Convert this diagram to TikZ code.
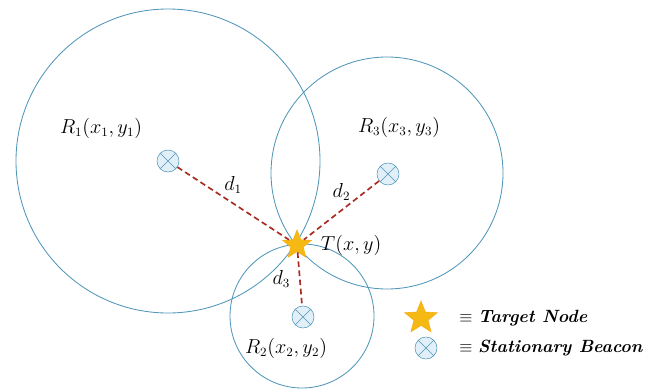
\documentclass[tikz,border=0pt]{standalone}
\usetikzlibrary{shapes.geometric}
\definecolor{ringblue}{RGB}{80,150,185}
\definecolor{beaconfill}{RGB}{225,240,248}
\definecolor{distred}{RGB}{170,45,35}
\definecolor{stargold}{RGB}{245,185,20}
\begin{document}
\begin{tikzpicture}[x=0.025cm, y=0.025cm,
  ring/.style={ringblue, line width=0.6pt},
  beacon/.style={circle, draw=ringblue, fill=beaconfill, minimum size=0.55cm, inner sep=0pt,
    path picture={\draw[ringblue] (path picture bounding box.north west) -- (path picture bounding box.south east)
      (path picture bounding box.north east) -- (path picture bounding box.south west);}},
  target/.style={star, star points=5, star point ratio=2.3, fill=stargold, draw=stargold!80!orange, minimum size=0.75cm, inner sep=0pt},
  dist/.style={distred, line width=1.2pt, dash pattern=on 4pt off 2.5pt},
  lbl/.style={font=\fontsize{13.5}{16}\selectfont},
  key/.style={right, inner sep=0pt, font=\fontsize{12.6}{15}\selectfont}]
% Fix the picture size
\useasboundingbox (0,0) rectangle (649,390);

% Draw the range circles of the three beacons
\draw[ring] (168,229) circle (152);
\draw[ring] (387,217) circle (116);
\draw[ring] (302,74) circle (72);

% Draw the beacons
\node[beacon] (b1) at (168,229) {};
\node[beacon] (b3) at (388,216) {};
\node[beacon] (b2) at (303,73) {};

% Draw the target node
\node[target] (tgt) at (297,145) {};
\node[lbl, right] (tlbl) at (316,145) {$T(x,y)$};

% Draw the distances
\draw[dist] (b1) -- (tgt) node[midway, above=3pt, lbl, black] (d1) {$d_1$};
\draw[dist] (b3) -- (tgt) node[midway, above=3pt, lbl, black] (d2) {$d_2$};
\draw[dist] (tgt) -- (b2) node[midway, left=3pt, lbl, black] (d3) {$d_3$};

% Label the beacons
\node[lbl] (r1) at (101,262) {$R_1(x_1,y_1)$};
\node[lbl] (r3) at (399,263) {$R_3(x_3,y_3)$};
\node[lbl] (r2) at (286,42) {$R_2(x_2,y_2)$};

% Draw the legend
\node[target, minimum size=0.85cm] (ltgt) at (421,72) {};
\node[beacon] (lbcn) at (426,42) {};
\node[key] (ltxt1) at (459,72) {$\equiv$ \textbf{\textit{Target Node}}};
\node[key] (ltxt2) at (459,42) {$\equiv$ \textbf{\textit{Stationary Beacon}}};
\end{tikzpicture}
\end{document}
